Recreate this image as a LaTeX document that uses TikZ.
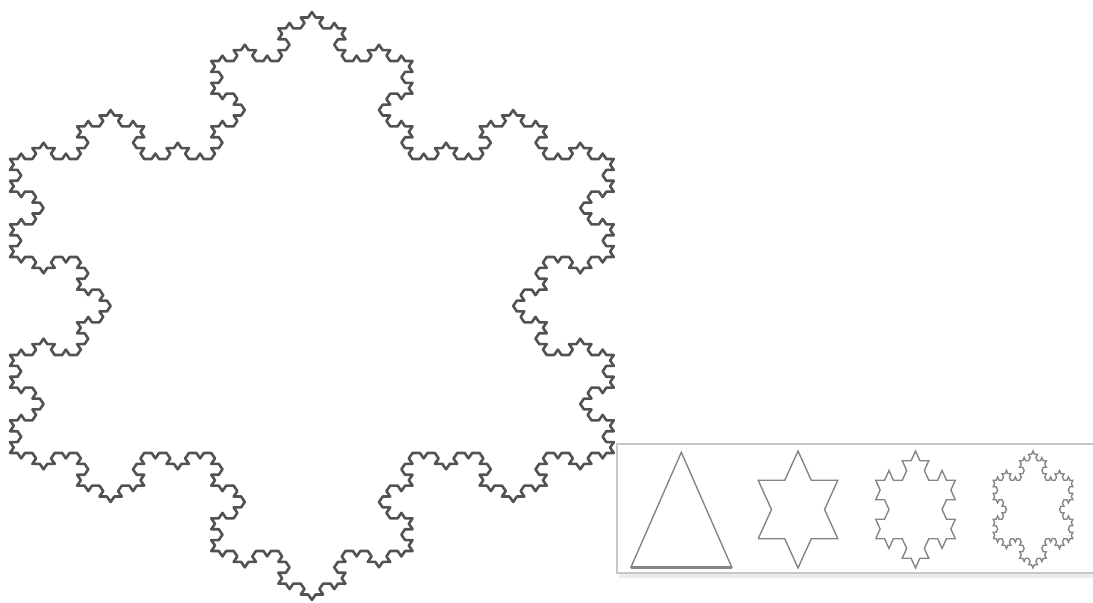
\documentclass[tikz,border=0pt]{standalone}
\usetikzlibrary{lindenmayersystems}
\pgfdeclarelindenmayersystem{Koch}{\rule{F -> F-F++F-F}}

\begin{document}
\begin{tikzpicture}[x=0.5pt,y=0.5pt,
flake/.style={black!68,line width=1.3pt,line join=round},
small/.style={black!48,line width=0.7pt},
panel/.style={draw=black!22,line width=0.7pt}
]
\useasboundingbox (0,0) rectangle (1093,603);

\begin{scope}[shift={(10,150)},xscale=1.186]
\draw[flake,l-system={Koch,axiom=F++F++F,order=4,step=3.143pt,angle=60}] (0,0) lindenmayer system -- cycle;
\end{scope}

\draw[black!8,line width=2pt] (619,27) -- (1093,27);
\draw[panel] (617,30) rectangle (1100,159);

\begin{scope}[shift={(630.8,35.5)},xscale=0.76]
\coordinate (t0) at (0,0);
\coordinate (t1) at (133,0);
\draw[small,l-system={Koch,axiom=F++F++F,order=0,step=66.5pt,angle=60}] (t0) lindenmayer system -- cycle;
\draw[small,line width=1.3pt] (t0) -- (t1);
\end{scope}

\foreach \n/\cx in {1/798,2/915.5,3/1033}{
\pgfmathsetmacro\st{50.65/3^\n}
\begin{scope}[shift={(\cx-39.8,64.25)},xscale=0.786]
\draw[small,l-system={Koch,axiom=F++F++F,order=\n,step=\st pt,angle=60}] (0,0) lindenmayer system -- cycle;
\end{scope}
}

\end{tikzpicture}
\end{document}
